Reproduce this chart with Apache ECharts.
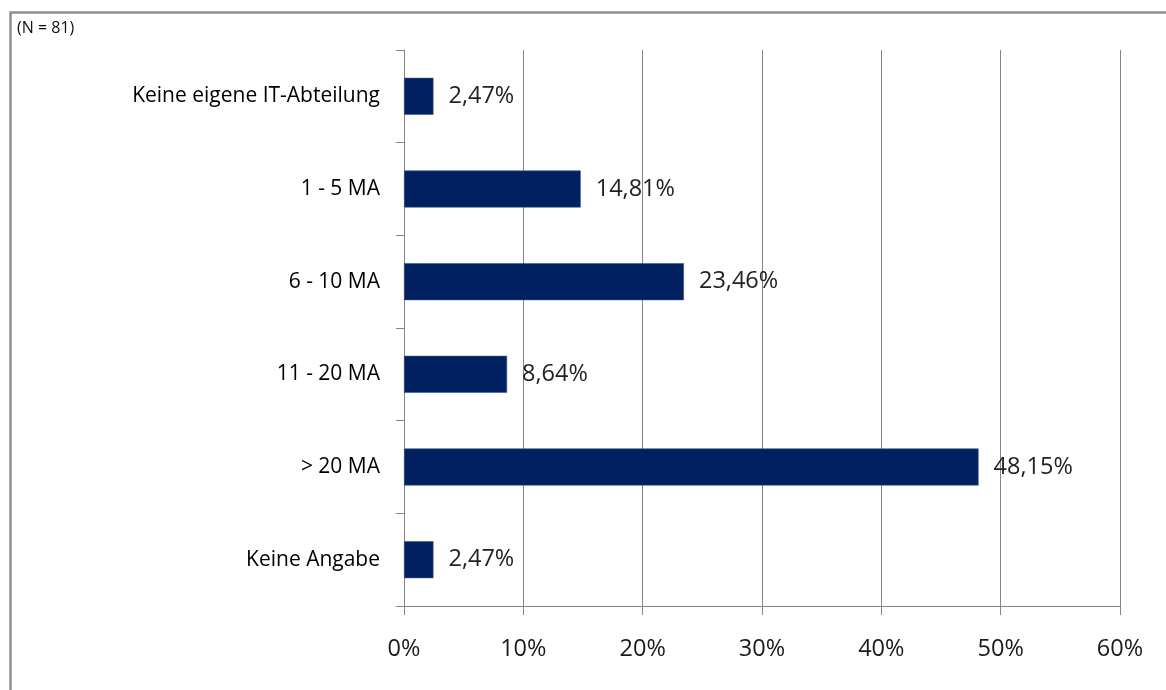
<!DOCTYPE html>
<html><head><meta charset="utf-8">
<script src="https://cdn.jsdelivr.net/npm/echarts@6/dist/echarts.min.js"></script>
<style>html,body{margin:0;padding:0;background:#fff}#c{width:1166px;height:690px}</style>
</head><body><div id="c"></div>
<script>
const categories = ['Keine eigene IT-Abteilung', '1 - 5 MA', '6 - 10 MA', '11 - 20 MA', '> 20 MA', 'Keine Angabe'];
const values = [2.47, 14.81, 23.46, 8.64, 48.15, 2.47];
const xTicks = [0, 10, 20, 30, 40, 50, 60];
const note = '(N = 81)';

const chart = echarts.init(document.getElementById('c'));
const font = '"Open Sans", sans-serif';
chart.setOption({
  animation: false,
  graphic: [
    {type: 'rect', shape: {x: 10.5, y: 12.5, width: 1200, height: 700}, style: {fill: 'none', stroke: '#8f8f8f', lineWidth: 2.5}, silent: true},
    {type: 'text', left: 17, top: 20, style: {text: note, font: '16px ' + font, fill: '#111'}}
  ],
  grid: {left: 404, right: 46, top: 50, bottom: 84},
  xAxis: {
    type: 'value', min: 0, max: 60, interval: 10,
    axisLine: {show: true, lineStyle: {color: '#868686', width: 1}},
    axisTick: {show: true, length: 9, lineStyle: {color: '#868686'}},
    splitLine: {show: true, lineStyle: {color: '#868686', width: 1}},
    axisLabel: {formatter: v => v + '%', margin: 31, fontSize: 23.5, color: '#1a1a1a', fontFamily: font}
  },
  yAxis: {
    type: 'category', inverse: true, data: categories,
    axisLine: {show: true, lineStyle: {color: '#868686'}},
    axisTick: {show: true, length: 8, lineStyle: {color: '#868686'}},
    axisLabel: {fontSize: 21, color: '#000', margin: 24, fontFamily: font}
  },
  series: [{
    type: 'bar', data: values, barCategoryGap: '60%',
    itemStyle: {color: '#002060', borderColor: '#3a5a8c', borderWidth: 0.6},
    label: {show: true, position: 'right', distance: 15, formatter: p => p.value.toFixed(2).replace('.', ',') + '%', fontSize: 23.5, color: '#222', fontFamily: font}
  }]
});
</script></body></html>
